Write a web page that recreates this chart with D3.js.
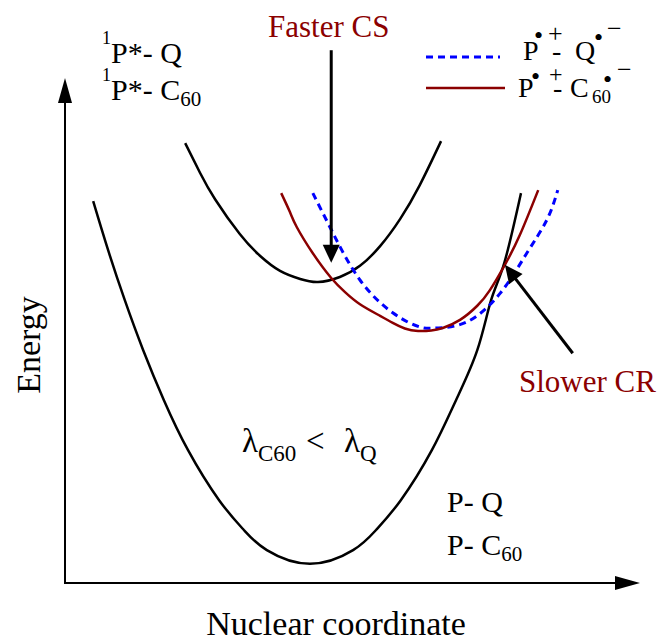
<!DOCTYPE html>
<html>
<head>
<meta charset="utf-8">
<script src="https://cdn.jsdelivr.net/npm/d3@7"></script>
<style>
  body { margin: 0; background: #fff; }
</style>
</head>
<body>
<svg id="chart" width="659" height="641"></svg>
<script>
// potential energy curves: [nuclear coordinate, energy], arbitrary units 0..10
const groundPQ = [[0.49,7.56],[0.75,6.59],[1.04,5.60],[1.36,4.61],[1.72,3.62],[2.14,2.63],[2.68,1.64],[3.11,1.05],
  [3.51,0.65],[4.26,0.38],[5.01,0.65],[5.41,1.05],[5.84,1.64],[6.38,2.63],[6.80,3.62],[7.17,4.61],[7.41,5.60],[7.64,6.34],[7.93,7.72]];
const excitedP = [[2.09,8.71],[2.35,8.12],[2.61,7.60],[3.04,6.91],[3.39,6.48],[3.74,6.18],[4.09,6.02],[4.40,5.96],
  [4.78,6.06],[5.13,6.28],[5.48,6.67],[5.83,7.21],[6.17,7.88],[6.54,8.75]];
const csC60 = [[3.76,7.72],[3.91,7.35],[4.03,7.05],[4.31,6.53],[4.63,6.04],[4.87,5.76],[5.13,5.52],[5.48,5.29],
  [5.70,5.15],[5.91,5.04],[6.14,4.99],[6.37,5.00],[6.57,5.05],[6.87,5.21],[7.17,5.49],[7.39,5.80],[7.65,6.30],[7.91,6.89],[8.23,7.78]];
const csQ = [[4.31,7.72],[4.66,6.93],[5.13,6.00],[5.70,5.35],[6.17,5.07],[6.47,5.05],[6.99,5.17],
  [7.57,5.74],[8.03,6.53],[8.38,7.19],[8.57,7.78]];
// annotation arrows [from, to]
const fasterCS = [[4.63,10.55],[4.63,6.34]];
const slowerCR = [[8.83,4.55],[7.65,6.30]];

const serif = '"Liberation Serif", "Times New Roman", Times, "DejaVu Serif", serif';
const darkRed = '#8b0000';
const svg = d3.select('#chart').attr('font-family', serif);

const x = d3.scaleLinear().domain([0, 10]).range([65, 640]);
const y = d3.scaleLinear().domain([0, 10]).range([583, 78]);

const line = d3.line()
  .curve(d3.curveNatural)
  .x(d => x(d[0]))
  .y(d => y(d[1]));

// arrow with a filled head, p0 -> p1 in pixels
function arrow(p0, p1, w, headLen, headW) {
  const dx = p1[0] - p0[0], dy = p1[1] - p0[1];
  const L = Math.sqrt(dx*dx + dy*dy);
  const ux = dx / L, uy = dy / L;
  const bx = p1[0] - ux*headLen, by = p1[1] - uy*headLen;
  svg.append('line')
    .attr('x1', p0[0]).attr('y1', p0[1])
    .attr('x2', bx + ux*2).attr('y2', by + uy*2)
    .attr('stroke', '#000').attr('stroke-width', w);
  svg.append('path')
    .attr('d', `M${p1[0]},${p1[1]}L${bx - uy*headW/2},${by + ux*headW/2}L${bx + uy*headW/2},${by - ux*headW/2}Z`)
    .attr('fill', '#000');
}

// axes
arrow([x(0), y(0) + 1], [x(0), y(10)], 2, 25, 14);
arrow([x(0) - 1, y(0)], [x(10), y(0)], 2, 25, 14);

// curves
svg.append('path').datum(groundPQ).attr('d', line)
  .attr('fill', 'none').attr('stroke', '#000').attr('stroke-width', 2.5);
svg.append('path').datum(excitedP).attr('d', line)
  .attr('fill', 'none').attr('stroke', '#000').attr('stroke-width', 2.5);
svg.append('path').datum(csQ).attr('d', line)
  .attr('fill', 'none').attr('stroke', '#0000ff').attr('stroke-width', 3)
  .attr('stroke-dasharray', '7,5');
svg.append('path').datum(csC60).attr('d', line)
  .attr('fill', 'none').attr('stroke', darkRed).attr('stroke-width', 2.5);

// annotation arrows
arrow([x(fasterCS[0][0]), y(fasterCS[0][1])], [x(fasterCS[1][0]), y(fasterCS[1][1])], 3, 18, 17);
arrow([x(slowerCR[0][0]), y(slowerCR[0][1])], [x(slowerCR[1][0]), y(slowerCR[1][1])], 3, 18, 17);

// axis titles
svg.append('text').attr('x', 336).attr('y', 635).attr('text-anchor', 'middle')
  .attr('font-family', serif).attr('font-size', 34).text('Nuclear coordinate');
svg.append('text').attr('transform', 'translate(40,345) rotate(-90)').attr('text-anchor', 'middle')
  .attr('font-family', serif).attr('font-size', 34).text('Energy');

// one text element built from tspans; parts may carry absolute x/y or relative dy
function label(xp, yp, parts, fill) {
  const t = svg.append('text').attr('x', xp).attr('y', yp)
    .attr('font-family', serif).attr('fill', fill || '#000');
  parts.forEach(p => {
    const s = t.append('tspan').attr('font-size', p.s).text(p.t);
    if (p.dy) s.attr('dy', p.dy);
    if (p.x != null) s.attr('x', p.x);
    if (p.y != null) s.attr('y', p.y);
  });
  return t;
}
label(102, 63, [{t:'1', s:18, dy:-19}, {t:'P*- Q', s:30, dy:19}]);
label(102, 100, [{t:'1', s:18, dy:-19}, {t:'P*- C', s:30, dy:19}, {t:'60', s:21, dy:6}]);
label(447, 512, [{t:'P- Q', s:30}]);
label(447, 555, [{t:'P- C', s:30}, {t:'60', s:21, dy:6}]);
label(242, 452, [{t:'λ', s:33}, {t:'C60', s:23, dy:9}, {t:'<', s:33, dy:-9, x:306}, {t:'λ', s:33, x:344}, {t:'Q', s:23, dy:9}]);
label(268, 37, [{t:'Faster CS', s:31}], darkRed);
label(519, 392, [{t:'Slower CR', s:31}], darkRed);

// legend
svg.append('line').attr('x1', 426).attr('x2', 500).attr('y1', 57).attr('y2', 57)
  .attr('stroke', '#0000ff').attr('stroke-width', 3).attr('stroke-dasharray', '7,5');
svg.append('line').attr('x1', 426).attr('x2', 505).attr('y1', 88).attr('y2', 88)
  .attr('stroke', darkRed).attr('stroke-width', 2.5);

// P•+ - Q•−
label(523, 60, [
  {t:'P', s:28},
  {t:'•', s:26, x:534, y:44},
  {t:'+', s:26, x:548, y:42},
  {t:'-', s:28, x:552, y:60},
  {t:'Q', s:28, x:575, y:60},
  {t:'•', s:26, x:594, y:46},
  {t:'−', s:26, x:607, y:37}
]);
// P•+ - C60•−
label(518, 97, [
  {t:'P', s:28},
  {t:'•', s:26, x:531, y:85},
  {t:'+', s:24, x:549, y:82},
  {t:'-', s:28, x:553, y:97},
  {t:'C', s:28, x:570, y:97},
  {t:'60', s:19, x:592, y:103},
  {t:'•', s:26, x:603, y:88},
  {t:'−', s:26, x:617, y:78}
]);
</script>
</body>
</html>
